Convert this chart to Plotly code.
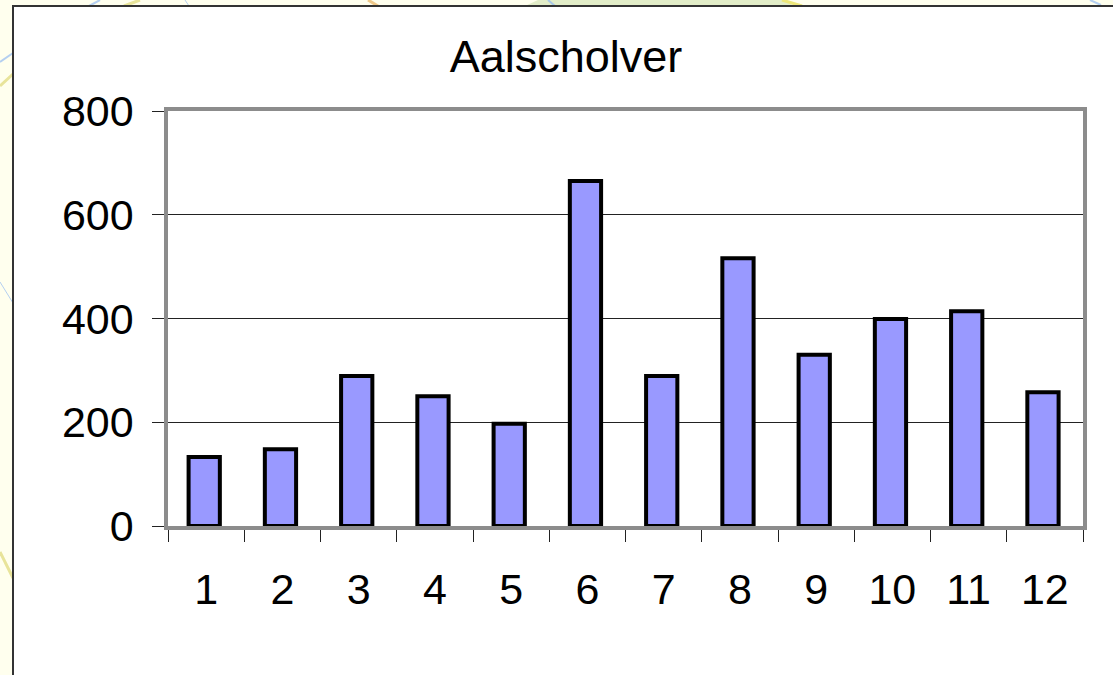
import plotly.graph_objects as go

title_text = "Aalscholver"
months = ["1", "2", "3", "4", "5", "6", "7", "8", "9", "10", "11", "12"]
counts = [133, 148, 289, 250, 197, 665, 289, 516, 330, 399, 414, 258]
y_ticks = [0, 200, 400, 600, 800]

L, R, T, B = 168, 1083, 111, 526
W, H = 1113, 675


def px(x):
    return (x - L) / (R - L)


def py(y):
    return (B - y) / (B - T)


# decorative map fragments behind the white chart panel
shapes = [dict(type="path", xref="paper", yref="paper", layer="below",
               path=f"M{px(525)},{py(6)} L{px(538)},{py(0)} L{px(782)},{py(0)} L{px(795)},{py(6)} Z",
               fillcolor="#E2EDC8", line=dict(width=0))]
map_lines = [
    ("#B4CFF0", 2, 0, 62, 13, 53), ("#E8E49A", 3, 0, 86, 13, 74),
    ("#B4CFF0", 1, 0, 282, 13, 303), ("#E8E49A", 3, 0, 552, 13, 578),
    ("#B4CFF0", 2, 89, 6, 100, 0), ("#E8E49A", 3, 124, 6, 140, 0),
    ("#B4CFF0", 1, 185, 0, 189, 6), ("#F0C98A", 3, 368, 0, 378, 6),
    ("#A8C8E8", 2, 548, 0, 555, 6), ("#EDE77A", 3, 782, 0, 802, 6),
    ("#B4CFF0", 2, 1090, 0, 1101, 5),
]
shapes += [dict(type="line", xref="paper", yref="paper", layer="below",
                x0=px(x0), x1=px(x1), y0=py(y0), y1=py(y1),
                line=dict(color=c, width=w)) for c, w, x0, y0, x1, y1 in map_lines]
shapes.append(dict(type="rect", xref="paper", yref="paper", layer="below",
                   x0=px(13), x1=px(W + 5), y0=py(H + 5), y1=py(6),
                   fillcolor="white", line=dict(color="#333333", width=2)))

fig = go.Figure(go.Bar(
    x=months, y=counts, width=0.41, offset=-0.23,
    marker=dict(color="#9999FF", line=dict(color="black", width=4)),
))
fig.update_layout(
    width=W, height=H,
    autosize=False,
    margin=dict(l=L, r=W - R, t=T, b=H - B),
    paper_bgcolor="#FFFFEE",
    plot_bgcolor="white",
    showlegend=False,
    font=dict(family="Liberation Sans", color="black", size=43),
    title=dict(text=title_text, x=566 / W, xanchor="center", y=1 - 56 / H, yanchor="middle",
               font=dict(size=45, family="Liberation Sans", color="black")),
    xaxis=dict(type="category", tickson="boundaries", ticks="outside", ticklen=12, tickwidth=1,
               tickcolor="#222222", showline=True, linecolor="#8C8C8C", linewidth=3.5, mirror=True,
               showgrid=False, ticklabelstandoff=23),
    yaxis=dict(range=[0, 800], tickvals=y_ticks, ticks="outside", ticklen=12, tickwidth=1,
               tickcolor="#222222", showline=True, linecolor="#8C8C8C", linewidth=3.5, mirror=True,
               showgrid=True, gridcolor="#222222", gridwidth=1, zeroline=False, ticklabelstandoff=10),
    shapes=shapes,
)
fig.write_html("out.html", config={"displayModeBar": False},
               post_script="document.body.style.margin='0';")
